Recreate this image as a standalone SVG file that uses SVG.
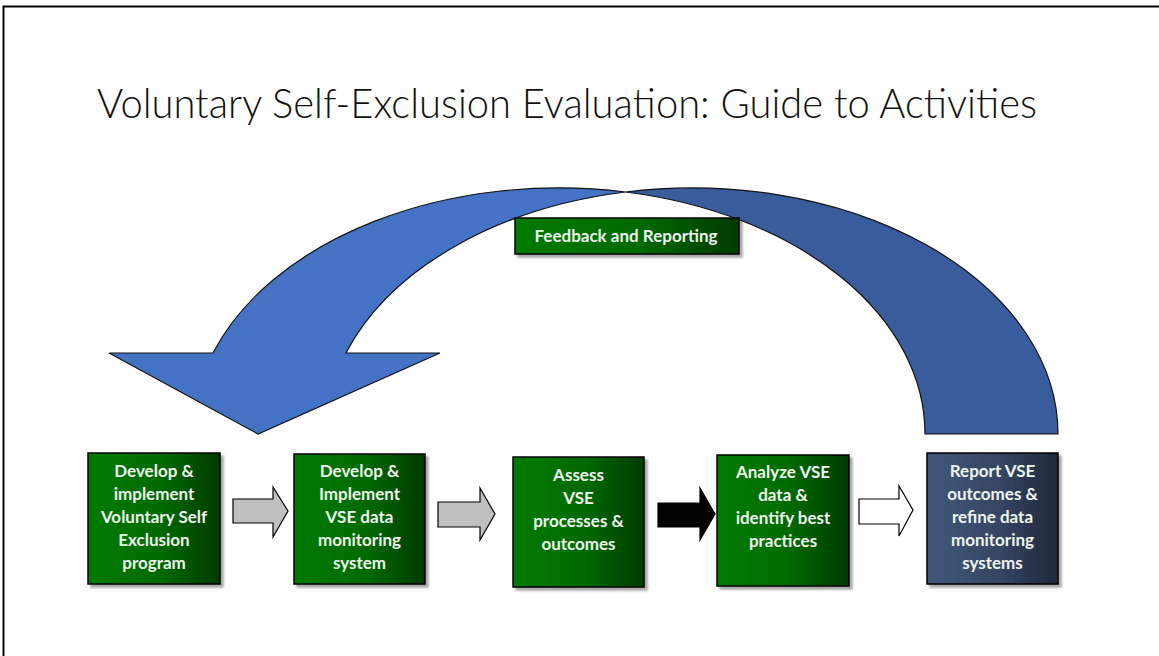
<svg xmlns="http://www.w3.org/2000/svg" width="1159" height="656" viewBox="0 0 1159 656">
  <defs>
    <linearGradient id="gGreen" x1="0" y1="0" x2="1" y2="0">
      <stop offset="0" stop-color="#007A00"/>
      <stop offset="0.55" stop-color="#006A00"/>
      <stop offset="1" stop-color="#003A00"/>
    </linearGradient>
    <linearGradient id="gSlate" x1="0" y1="0" x2="1" y2="0">
      <stop offset="0" stop-color="#42587A"/>
      <stop offset="0.55" stop-color="#354663"/>
      <stop offset="1" stop-color="#20283A"/>
    </linearGradient>
    <filter id="sh" x="-10%" y="-10%" width="130%" height="130%">
      <feGaussianBlur in="SourceAlpha" stdDeviation="1.2"/>
      <feOffset dx="3" dy="3"/>
      <feComponentTransfer><feFuncA type="linear" slope="0.35"/></feComponentTransfer>
      <feMerge><feMergeNode/><feMergeNode in="SourceGraphic"/></feMerge>
    </filter>
    <style>
      .box { stroke: #000; stroke-width: 1.5; filter: url(#sh); }
      .green { fill: url(#gGreen); }
      .slate { fill: url(#gSlate); }
      .lbl { font-family: Lato, "Open Sans", "Liberation Sans", sans-serif; font-weight: 700; font-size: 17px; fill: #EEF4EE; text-anchor: middle; }
      .title { font-family: Lato, "Open Sans", "Liberation Sans", sans-serif; font-weight: 300; font-size: 41px; fill: #111111; }
      .blk { stroke: #000; stroke-width: 1.2; stroke-linejoin: miter; }
      .curve { stroke: #111; stroke-width: 1.2; stroke-linejoin: miter; }
    </style>
  </defs>

  <rect x="0" y="0" width="1159" height="656" fill="#ffffff"/>
  <path d="M3.5,656 V6.5 H1159" fill="none" stroke="#000" stroke-width="2"/>

  <g id="title">
    <text class="title" x="97" y="118" textLength="940" lengthAdjust="spacingAndGlyphs">Voluntary Self-Exclusion Evaluation: Guide to Activities</text>
  </g>

  <g id="connectors">
    <!-- back (dark) band of the curved feedback arrow -->
    <path class="curve" fill="#395C9C" d="M1058,434 A366,246 0 0 0 625.5,192 A366,246 0 0 1 925,434 Z"/>
    <!-- front (light) band with arrowhead -->
    <path class="curve" fill="#4472C4" d="M625.5,192 A366,246 0 0 0 213,353 L109,353 L258,434 L440,353 L346,353 A366,246 0 0 1 625.5,192 Z"/>
    <!-- step arrows -->
    <polygon class="blk" fill="#BFBFBF" points="233,499 273,499 273,487 288,511 273,537 273,523 233,523"/>
    <polygon class="blk" fill="#BFBFBF" points="438,502 480,502 480,488 495,514 480,540 480,527 438,527"/>
    <polygon class="blk" fill="#000000" points="658,503 700,503 700,488 715,514 700,540 700,527 658,527"/>
    <polygon class="blk" fill="#FFFFFF" points="859,499 899,499 899,486 913,510 899,536 899,524 859,524"/>
  </g>

  <g id="feedback">
    <rect class="box green" x="515" y="218" width="224" height="36"/>
    <text class="lbl" x="626" y="242">Feedback and Reporting</text>
  </g>

  <g id="step1">
    <rect class="box green" x="88" y="453" width="132" height="131"/>
    <text class="lbl" x="154" y="477">Develop &amp;</text>
    <text class="lbl" x="154" y="500">implement</text>
    <text class="lbl" x="154" y="523">Voluntary Self</text>
    <text class="lbl" x="154" y="546">Exclusion</text>
    <text class="lbl" x="154" y="569">program</text>
  </g>

  <g id="step2">
    <rect class="box green" x="294" y="454" width="131" height="130"/>
    <text class="lbl" x="359.5" y="477">Develop &amp;</text>
    <text class="lbl" x="359.5" y="500">Implement</text>
    <text class="lbl" x="359.5" y="523">VSE data</text>
    <text class="lbl" x="359.5" y="546">monitoring</text>
    <text class="lbl" x="359.5" y="569">system</text>
  </g>

  <g id="step3">
    <rect class="box green" x="513" y="457" width="131" height="130"/>
    <text class="lbl" x="578.5" y="481">Assess</text>
    <text class="lbl" x="578.5" y="504">VSE</text>
    <text class="lbl" x="578.5" y="527">processes &amp;</text>
    <text class="lbl" x="578.5" y="550">outcomes</text>
  </g>

  <g id="step4">
    <rect class="box green" x="717" y="455" width="132" height="131"/>
    <text class="lbl" x="783" y="478">Analyze VSE</text>
    <text class="lbl" x="783" y="501">data &amp;</text>
    <text class="lbl" x="783" y="524">identify best</text>
    <text class="lbl" x="783" y="547">practices</text>
  </g>

  <g id="step5">
    <rect class="box slate" x="927" y="453" width="131" height="131"/>
    <text class="lbl" x="992.5" y="477">Report VSE</text>
    <text class="lbl" x="992.5" y="500">outcomes &amp;</text>
    <text class="lbl" x="992.5" y="523">refine data</text>
    <text class="lbl" x="992.5" y="546">monitoring</text>
    <text class="lbl" x="992.5" y="569">systems</text>
  </g>
</svg>
